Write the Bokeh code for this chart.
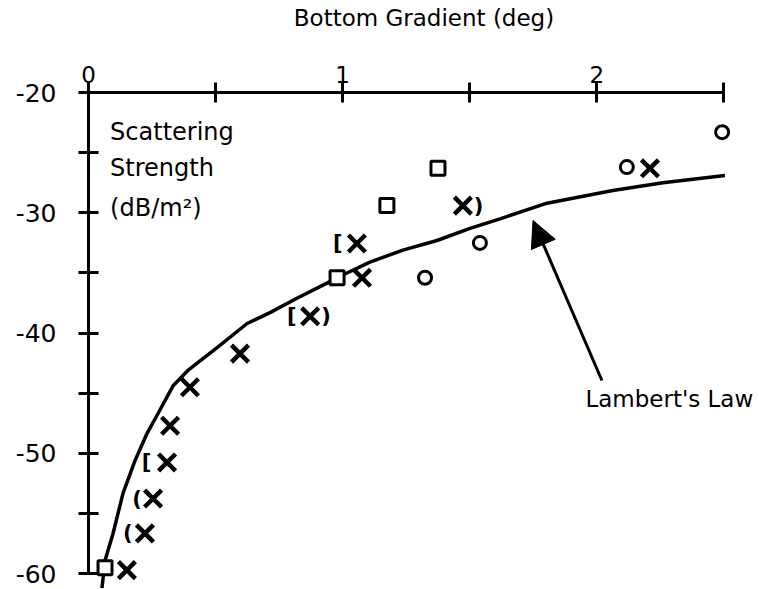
from bokeh.plotting import figure
from bokeh.models import Range1d, FixedTicker, Label, Arrow, NormalHead, ColumnDataSource
from bokeh.core.properties import value
from bokeh.embed import file_html
from bokeh.resources import INLINE

FONT = "DejaVu Sans"

# ---- data ----
# Lambert's Law curve (bottom gradient deg, scattering strength dB/m^2)
curve_x = [0.053, 0.065, 0.096, 0.136, 0.183, 0.230, 0.273, 0.332, 0.391, 0.506,
           0.624, 0.714, 0.820, 0.942, 1.017, 1.107, 1.237, 1.371, 1.501, 1.619,
           1.804, 2.063, 2.260, 2.504]
curve_y = [-61.2, -58.9, -56.7, -53.3, -50.6, -48.35, -46.7, -44.4, -43.1, -41.2,
           -39.2, -38.3, -37.1, -35.8, -35.0, -34.1, -33.1, -32.3, -31.3, -30.5,
           -29.2, -28.15, -27.5, -26.9]

# cross markers
cross_x = [0.151, 0.222, 0.254, 0.309, 0.321, 0.399, 0.596, 0.872, 1.056, 1.076, 1.473, 2.209]
cross_y = [-59.7, -56.65, -53.75, -50.75, -47.7, -44.5, -41.7, -38.6, -32.55, -35.4, -29.4, -26.3]

# square markers
square_x = [0.065, 0.978, 1.174, 1.375]
square_y = [-59.5, -35.4, -29.4, -26.3]

# circle markers
circle_x = [1.324, 1.540, 2.118, 2.493]
circle_y = [-35.4, -32.5, -26.2, -23.3]

# partly hidden markers (only a half of square / circle visible)
part_x = [0.155, 0.191, 0.228, 0.800, 0.935, 0.981, 1.535]
part_y = [-56.65, -53.75, -50.75, -38.6, -38.6, -32.55, -29.4]
part_ch = ["(", "(", "[", "[", ")", "[", ")"]

# axis ticks
y_major = [-60, -50, -40, -30, -20]
y_minor = [-55, -45, -35, -25]
y_labels = ["-60", "-50", "-40", "-30", "-20"]
x_major = [0, 1, 2]
x_minor = [0.5, 1.5, 2.5]

p = figure(width=759, height=589,
           x_range=Range1d(0, 2.640), y_range=Range1d(-61.31, -20),
           x_axis_location="above",
           output_backend="svg", toolbar_location=None,
           min_border_left=88, min_border_top=92,
           min_border_right=0, min_border_bottom=0)

p.outline_line_color = None
p.grid.visible = False
p.background_fill_color = "white"
p.border_fill_color = "white"

for ax in (p.xaxis[0], p.yaxis[0]):
    ax.axis_line_width = 3
    ax.axis_line_color = "black"
    ax.major_tick_line_width = 3
    ax.minor_tick_line_width = 3
    ax.major_tick_in = 10
    ax.major_tick_out = 10
    ax.minor_tick_in = 10
    ax.minor_tick_out = 10
    ax.major_label_text_font = FONT
    ax.major_label_text_color = "black"

xa = p.xaxis[0]
xa.ticker = FixedTicker(ticks=x_major, minor_ticks=x_minor)
xa.bounds = (0, 2.5)
xa.major_label_text_font_size = "23px"
xa.major_label_standoff = 0
xa.axis_label = "Bottom Gradient (deg)"
xa.axis_label_text_font = FONT
xa.axis_label_text_font_style = "normal"
xa.axis_label_text_font_size = "23px"
xa.axis_label_text_color = "black"
xa.axis_label_standoff = 32

ya = p.yaxis[0]
ya.ticker = FixedTicker(ticks=y_major, minor_ticks=y_minor)
ya.major_label_overrides = {t: s for t, s in zip(y_major, y_labels)}
ya.bounds = (-60, -20)
ya.major_label_text_font_size = "25px"
ya.major_label_standoff = 22

# Lambert's law curve
p.line(curve_x, curve_y, line_color="black", line_width=3.5)

# markers
p.scatter(cross_x, cross_y, marker="x", size=24, line_color="black", line_width=4.5)
p.scatter(square_x, square_y, marker="square", size=14, line_color="black",
          line_width=3, fill_color="white")
p.scatter(circle_x, circle_y, marker="circle", size=13, line_color="black",
          line_width=3, fill_color="white")

src = ColumnDataSource(dict(x=part_x, y=part_y, t=part_ch))
p.text(x="x", y="y", text="t", source=src, text_font=value("DejaVu Sans"),
       text_font_style="bold", text_font_size="21px", text_align="center",
       text_baseline="middle", text_color="black")

# y-axis title inside plot
for txt, yy in (("Scattering", -23.3), ("Strength", -26.3), ("(dB/m\u00b2)", -29.6)):
    p.add_layout(Label(x=0.085, y=yy, text=txt, text_font=FONT,
                       text_font_size="24px", text_baseline="middle",
                       text_color="black"))

# annotation
p.add_layout(Arrow(end=NormalHead(size=26, fill_color="black", line_color="black"),
                   x_start=2.02, y_start=-43.94, x_end=1.749, y_end=-30.64,
                   line_width=3, line_color="black"))
p.add_layout(Label(x=1.955, y=-45.5, text="Lambert's Law", text_font=FONT,
                   text_font_size="23px", text_baseline="middle", text_color="black"))

open("out.html", "w").write(file_html(p, INLINE))
